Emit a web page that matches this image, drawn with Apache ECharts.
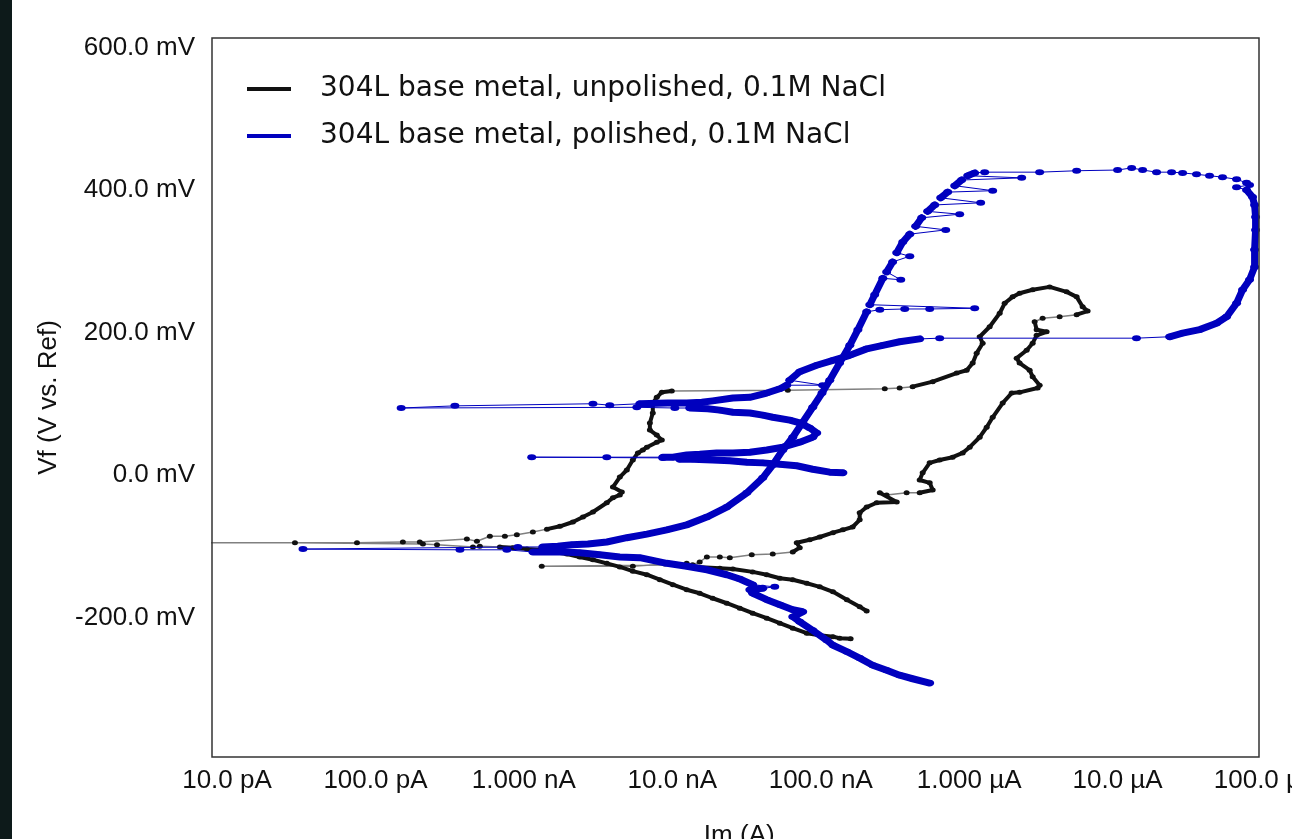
<!DOCTYPE html>
<html>
<head>
<meta charset="utf-8">
<script src="https://cdn.jsdelivr.net/npm/echarts@6/dist/echarts.min.js"></script>
<style>
html,body{margin:0;padding:0;background:#ffffff;}
#chart{position:absolute;left:0;top:0;width:1292px;height:839px;}
#strip{position:absolute;left:0;top:0;width:12px;height:839px;background:#0d1a1a;}
</style>
</head>
<body>
<div id="chart"></div>
<div id="strip"></div>
<script>
// Current in nA, potential in mV. Runs alternate: even index = densely sampled run, odd index = sparse points.
const seriesNames = ['304L base metal, unpolished, 0.1M NaCl', '304L base metal, polished, 0.1M NaCl'];
const xTickValues = [0.01, 0.1, 1, 10, 100, 1000, 10000, 100000];
const yTickValues = [-200, 0, 200, 400, 600];

// ---- unpolished (black) ----
const unpolA = [[159,-230],[134,-229],[121,-227],[98.5,-225],[80.5,-222],[64.8,-215],[53.0,-208],[43.3,-201],[34.8,-194],[28.5,-187],[23.3,-180],[18.7,-173],[15.3,-166],[12.5,-161],[10.1,-154],[8.24,-147],[6.74,-140],[5.42,-135],[4.43,-129],[3.62,-124],[2.92,-119],[2.38,-115],[1.95,-111],[1.57,-108],[1.28,-105],[1.05,-104],[0.843,-102],[0.689,-101]];
const unpolB = [[0.505,-100],[0.454,-101],[0.260,-98],[0.209,-97],[0.0287,-95],[0.001,-95],[0.0751,-95],[0.153,-94],[0.199,-94],[0.413,-90],[0.483,-93],[0.590,-86],[0.745,-86],[0.897,-84],[1.15,-80]];
const unpolC = [[1.43,-76],[1.75,-72],[2.14,-66],[2.50,-59],[2.92,-52],[3.62,-39],[3.98,-32],[4.43,-28],[4.57,-24],[3.98,-17],[4.43,-3],[4.94,7],[5.42,21],[5.86,31],[6.33,35],[6.74,39],[7.86,46],[8.50,49],[7.86,56],[7.06,63],[7.06,73],[7.39,87],[7.39,101],[7.86,109],[8.50,116],[9.92,118]];
const unpolD = [[60.0,119],[270,121],[340,122]];
const unpolE = [[416,124],[568,131],[824,143],[962,147],[1056,157],[1123,171],[1233,185],[1177,194],[1374,208],[1605,227],[1734,241],[1963,250],[2188,255],[2677,260],[3484,264],[4535,257],[5297,250],[5812,236],[6281,230],[5297,225]];
const unpolF = [[4069,222],[3126,220]];
const unpolG = [[2761,215],[2848,204],[3325,201],[2848,196],[2677,185],[2439,175],[2089,164],[2188,157],[2555,147],[2677,138],[2984,126],[2893,122],[2188,116],[1933,115],[1681,101],[1440,81],[1312,67],[1177,53],[1008,39],[904,31],[774,25],[633,21],[542,17],[486,3],[464,-7],[542,-11],[568,-21],[464,-25]];
const unpolH = [[379,-25],[278,-28]];
const unpolI = [[250,-25],[325,-38],[238,-39],[204,-45],[183,-53],[183,-63],[164,-73],[141,-77],[121,-81],[98.5,-87],[84.3,-91],[68.9,-95],[72.2,-102],[64.8,-108]];
const unpolJ = [[47.5,-111],[34.3,-112],[24.4,-116],[20.9,-115],[17.1,-115],[15.3,-122],[13.7,-126],[1.32,-128],[5.42,-128],[8.90,-125],[12.5,-124]];
const unpolK = [[14.6,-129],[20.9,-131],[25.6,-132],[34.8,-136],[43.3,-140],[53.0,-145],[64.8,-147],[80.5,-152],[98.5,-157],[121,-164],[150,-175],[183,-185],[204,-191]];
const unpolishedRuns = [unpolA, unpolB, unpolC, unpolD, unpolE, unpolF, unpolG, unpolH, unpolI, unpolJ, unpolK];

// ---- polished (blue) ----
const p01 = [[542,-292],[416,-286],[340,-281],[278,-274],[224,-267],[183,-257],[150,-248],[121,-239],[110,-232],[88.3,-218],[72.2,-206],[64.8,-199],[75.6,-192],[64.8,-189],[53.0,-182],[43.3,-175],[34.8,-166],[33.3,-161],[40.7,-159]];
const p02 = [[49.0,-157]];
const p03 = [[34.8,-154],[28.5,-146],[23.3,-140],[17.1,-133],[12.5,-128],[9.18,-124],[6.04,-116],[4.43,-115],[3.25,-112],[2.38,-109],[1.83,-108],[1.45,-108],[1.15,-108]];
const p04 = [[0.768,-105],[0.371,-105],[0.0325,-104],[0.911,-101]];
const p05 = [[1.34,-101],[1.69,-100],[2.10,-98],[2.70,-97],[3.62,-94],[4.94,-88],[6.74,-83],[9.18,-77],[12.5,-70],[17.1,-59],[23.3,-45],[31.8,-25],[40.7,-4],[47.5,14],[55.5,35],[64.8,53],[75.6,74],[88.3,95],[102,115],[115,133],[134,157],[157,182],[178,204],[204,229]];
const p06 = [[250,232],[368,233],[542,233],[1089,234]];
const p07 = [[214,239],[231,253],[262,276]];
const p08 = [[346,274]];
const p09 = [[278,285],[305,299]];
const p10 = [[398,307]];
const p11 = [[325,312],[357,327],[398,338]];
const p12 = [[695,344]];
const p13 = [[436,349],[479,361]];
const p14 = [[863,366]];
const p15 = [[525,370],[586,379]];
const p16 = [[1195,382]];
const p17 = [[643,389],[717,397]];
const p18 = [[1440,399]];
const p19 = [[799,406],[890,414]];
const p20 = [[2258,417]];
const p21 = [[977,420],[1089,424]];
const p22 = [[1272,425],[2984,425],[5297,427],[10000,428],[12430,431],[14740,428],[18300,425],[23100,425],[27400,424],[34000,422],[41600,420],[50900,418],[63300,415],[73900,410],[77400,407],[63300,404]];
const p23 = [[73900,400],[81100,390],[83700,379],[85000,362],[85000,344],[83700,316],[83700,292],[77400,274],[69500,260],[63300,241],[54200,222],[46400,213],[35700,204],[27400,199],[22400,194]];
const p24 = [[13400,192],[633,192]];
const p25 = [[464,191],[340,187],[262,182],[204,177],[157,168],[121,161],[94.0,154],[72.2,145],[61.8,133]];
const p26 = [[103,126]];
const p27 = [[59.0,126],[53.0,121],[43.3,115],[33.3,109],[25.6,108],[18.7,104],[15.8,102],[12.5,101],[9.33,101],[6.04,100]];
const p28 = [[3.79,98],[2.92,100],[0.343,97],[0.149,94],[5.77,95],[10.4,94]];
const p29 = [[13.1,94],[17.3,93],[20.9,91],[25.6,88],[33.3,87],[40.7,84],[47.5,81],[61.8,77],[72.2,73],[84.3,66],[94.0,59],[88.3,53],[72.2,46],[55.5,39],[43.3,35],[33.3,32],[25.6,31],[19.9,31],[15.3,29],[12.5,28],[10.1,25],[8.63,25]];
const p30 = [[3.62,25],[1.13,25],[8.63,24]];
const p31 = [[11.2,22],[13.7,22],[18.7,21],[24.4,20],[31.8,18],[40.7,17],[53.0,15],[68.9,13],[88.3,8],[115,4],[141,3]];
const polishedRuns = [p01,p02,p03,p04,p05,p06,p07,p08,p09,p10,p11,p12,p13,p14,p15,p16,p17,p18,p19,p20,p21,p22,p23,p24,p25,p26,p27,p28,p29,p30,p31];

function fmtCurrent(v) {
  let n, unit;
  if (v < 0.999) { n = v * 1000; unit = 'pA'; }
  else if (v < 999) { n = v; unit = 'nA'; }
  else { n = v / 1000; unit = '\u00b5A'; }
  n = Math.round(n * 1000) / 1000;
  const s = n < 9.99 ? n.toFixed(3) : n.toFixed(1);
  return s + ' ' + unit;
}

function buildSeries(runs, name, o) {
  const list = [{
    type: 'line', name: name, data: runs.flat(),
    symbol: 'circle', symbolSize: o.dot, showSymbol: true,
    lineStyle: { color: o.thin, width: o.thinW },
    itemStyle: { color: o.color },
    z: o.z, silent: true, animation: false, clip: true
  }];
  runs.forEach(function (run, i) {
    if (i % 2 === 0 && run.length > 1) {
      list.push({
        type: 'line', name: name, data: run, symbol: 'none',
        lineStyle: { color: o.color, width: o.thickW, cap: 'round', join: 'round' },
        z: o.z + 1, silent: true, animation: false, clip: true
      });
    }
  });
  return list;
}

const axisFont = { fontFamily: 'Liberation Sans', fontSize: 26, color: '#111' };

const chart = echarts.init(document.getElementById('chart'), null, { renderer: 'canvas' });
chart.setOption({
  backgroundColor: '#ffffff',
  animation: false,
  grid: { left: 212, top: 38, width: 1054.5, height: 719, containLabel: false, outerBoundsMode: 'none', show: false },
  legend: {
    orient: 'vertical', left: 242, top: 70, itemWidth: 44, itemHeight: 4, itemGap: 19,
    icon: 'rect', selectedMode: false,
    data: [
      { name: seriesNames[0], itemStyle: { color: '#111111' } },
      { name: seriesNames[1], itemStyle: { color: '#0000be' } }
    ],
    textStyle: { fontFamily: 'DejaVu Sans', fontSize: 28, color: '#111', padding: [0, 0, 0, 24] }
  },
  xAxis: {
    type: 'log', logBase: 10, min: 0.007925, max: 100700,
    axisLine: { show: false }, axisTick: { show: false }, splitLine: { show: false },
    minorTick: { show: false }, minorSplitLine: { show: false },
    axisLabel: Object.assign({ customValues: xTickValues, formatter: fmtCurrent, margin: 11 }, axisFont),
    name: 'Im (A)', nameLocation: 'middle', nameGap: 66, nameTextStyle: axisFont
  },
  yAxis: {
    type: 'value', min: -395.8, max: 613.3,
    axisLine: { show: false }, axisTick: { show: false }, splitLine: { show: false },
    axisLabel: Object.assign({ customValues: yTickValues, formatter: function (v) { return v.toFixed(1) + ' mV'; }, margin: 17 }, axisFont),
    name: 'Vf (V vs. Ref)', nameLocation: 'middle', nameGap: 150, nameRotate: 90, nameTextStyle: axisFont
  },
  graphic: [{
    type: 'rect', silent: true, z: 100,
    shape: { x: 212, y: 38, width: 1047, height: 719 },
    style: { fill: 'none', stroke: '#333', lineWidth: 1.5 }
  }],
  series: []
    .concat(buildSeries(unpolishedRuns, seriesNames[0], { color: '#111111', thin: '#808080', thinW: 1.5, dot: [6, 5], thickW: 4, z: 2 }))
    .concat(buildSeries(polishedRuns, seriesNames[1], { color: '#0000be', thin: '#0000be', thinW: 1, dot: [9, 6], thickW: 7, z: 4 }))
});
</script>
</body>
</html>
